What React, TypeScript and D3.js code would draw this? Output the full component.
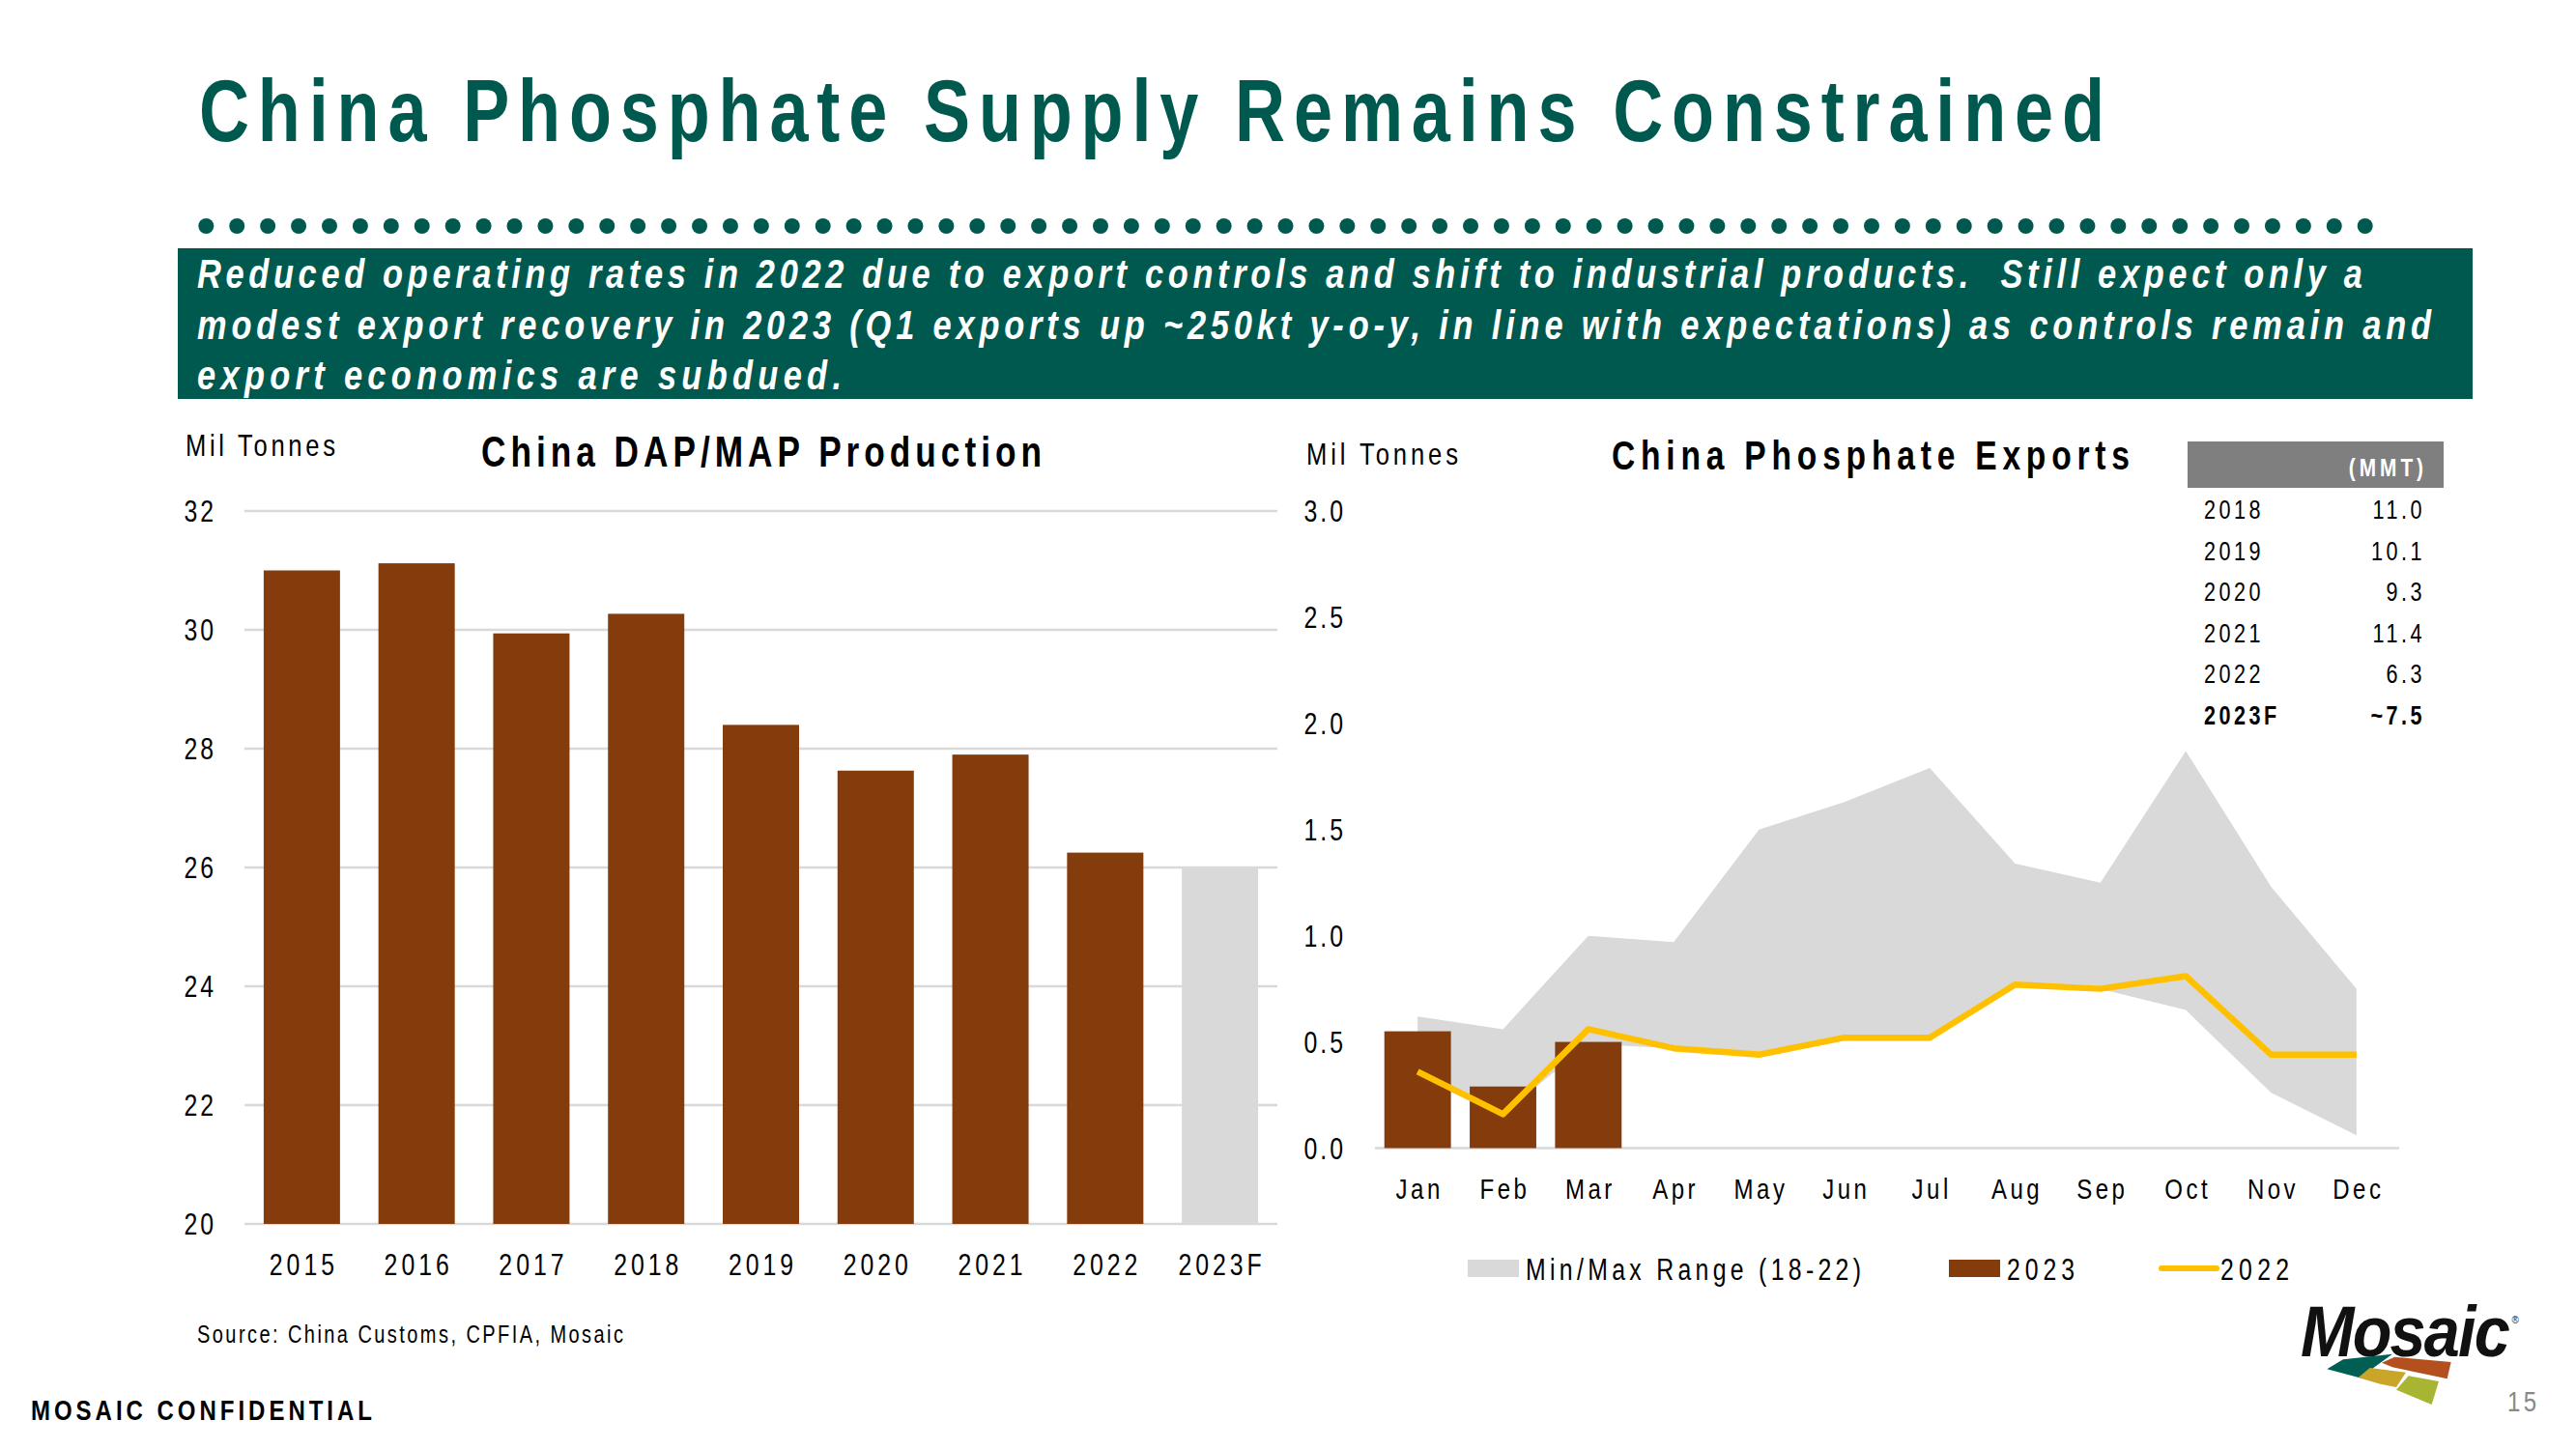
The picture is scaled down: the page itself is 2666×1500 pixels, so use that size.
import React from 'react';
import * as d3 from 'd3';

const W = 2666;
const H = 1500;
const GREEN = '#00594F';
const BROWN = '#843C0C';
const LIGHT = '#D9D9D9';
const YELLOW = '#FFC000';
const FONT = "'Liberation Sans', Arial, sans-serif";
const SX = 0.8;

// Left chart data
const prodYears = ['2015', '2016', '2017', '2018', '2019', '2020', '2021', '2022', '2023F'];
const prodValues = [31.0, 31.12, 29.94, 30.27, 28.4, 27.63, 27.9, 26.25, 26.0];
const prodForecast = [false, false, false, false, false, false, false, false, true];
const prodTicks = [20, 22, 24, 26, 28, 30, 32];

// Right chart data
const months = ['Jan', 'Feb', 'Mar', 'Apr', 'May', 'Jun', 'Jul', 'Aug', 'Sep', 'Oct', 'Nov', 'Dec'];
const exports2023 = [0.55, 0.29, 0.5];
const exports2022 = [0.36, 0.16, 0.56, 0.47, 0.44, 0.52, 0.52, 0.77, 0.75, 0.81, 0.44, 0.44];
const rangeMin = [0.33, 0.16, 0.49, 0.47, 0.44, 0.52, 0.52, 0.77, 0.75, 0.65, 0.26, 0.06];
const rangeMax = [0.62, 0.56, 1.0, 0.97, 1.5, 1.63, 1.79, 1.34, 1.25, 1.87, 1.23, 0.75];
const expTicks = [0, 0.5, 1.0, 1.5, 2.0, 2.5, 3.0];

// Table
const tableYears = ['2018', '2019', '2020', '2021', '2022', '2023F'];
const tableValues = ['11.0', '10.1', '9.3', '11.4', '6.3', '~7.5'];

const bannerLines = [
  'Reduced operating rates in 2022 due to export controls and shift to industrial products.  Still expect only a',
  'modest export recovery in 2023 (Q1 exports up ~250kt y-o-y, in line with expectations) as controls remain and',
  'export economics are subdued.',
];
const bannerWidths = [2241, 2312, 667];

type TP = {
  x: number;
  y: number;
  size: number;
  w?: number;
  ls?: number;
  anchor?: 'start' | 'middle' | 'end';
  weight?: string;
  italic?: boolean;
  fill?: string;
  sx?: number;
  children: React.ReactNode;
};

function T({ x, y, size, w, ls, anchor = 'start', weight = 'normal', italic = false, fill = '#000', sx = SX, children }: TP) {
  return (
    <g transform={`translate(${x},${y}) scale(${sx},1)`}>
      <text
        x={0}
        y={0}
        fontSize={size}
        textAnchor={anchor}
        fontWeight={weight}
        fontStyle={italic ? 'italic' : 'normal'}
        fill={fill}
        textLength={w ? w / sx : undefined}
        lengthAdjust={w ? 'spacing' : undefined}
        letterSpacing={ls ? ls / sx : undefined}
        style={{ whiteSpace: 'pre' }}
      >
        {children}
      </text>
    </g>
  );
}

export default function App() {
  // Left chart scales
  const lx = d3.scaleBand<string>().domain(prodYears).range([253, 1322]).paddingInner(0.335).paddingOuter(0.1675);
  const ly = d3.scaleLinear().domain([20, 32]).range([1267, 529]);

  // Right chart scales
  const rx = d3.scaleBand<string>().domain(months).range([1423, 2483]).paddingInner(0.22).paddingOuter(0.11);
  const ry = d3.scaleLinear().domain([0, 3]).range([1188.5, 529]);
  const cx = (m: string) => (rx(m) as number) + rx.bandwidth() / 2;

  const area = d3
    .area<number>()
    .x((_, i) => cx(months[i]))
    .y0((_, i) => ry(rangeMin[i]))
    .y1((_, i) => ry(rangeMax[i]));
  const line = d3
    .line<number>()
    .x((_, i) => cx(months[i]))
    .y((d) => ry(d));

  const dots = d3.range(71).map((i) => 213.3 + i * 31.92);

  const logoPts = (pts: number[][]) => pts.map(([x, y]) => `${2370 + x / 3},${1330 + y / 3}`).join(' ');

  return (
    <svg width={W} height={H} style={{ position: 'absolute', left: 0, top: 0, display: 'block', background: '#fff' }} fontFamily={FONT}>
      {/* Title */}
      <T x={206} y={146} size={90} weight="bold" fill={GREEN} w={1972}>
        China Phosphate Supply Remains Constrained
      </T>
      {dots.map((x, i) => (
        <circle key={i} cx={x} cy={234} r={8} fill={GREEN} />
      ))}
      <rect x={184} y={257} width={2375} height={156} fill={GREEN} />
      {bannerLines.map((t, i) => (
        <T key={i} x={204} y={298 + i * 52.5} size={43} weight="bold" italic fill="#fff" w={bannerWidths[i]}>
          {t}
        </T>
      ))}

      {/* Left chart */}
      <T x={192} y={472} size={32} w={155}>Mil Tonnes</T>
      <T x={498} y={483} size={44} weight="bold" w={580}>China DAP/MAP Production</T>
      {prodTicks.map((t) => (
        <g key={t}>
          <line x1={253} x2={1322} y1={ly(t)} y2={ly(t)} stroke={LIGHT} strokeWidth={2.5} />
          <T x={224} y={ly(t) + 11} size={31} anchor="end" ls={3}>{String(t)}</T>
        </g>
      ))}
      {prodYears.map((yr, i) => (
        <rect key={yr} x={lx(yr)} y={ly(prodValues[i])} width={lx.bandwidth()} height={ly(20) - ly(prodValues[i])} fill={prodForecast[i] ? LIGHT : BROWN} />
      ))}
      {prodYears.map((yr) => (
        <T key={yr} x={(lx(yr) as number) + lx.bandwidth() / 2 + 2} y={1320} size={31} anchor="middle" ls={4}>{yr}</T>
      ))}
      <T x={204} y={1390} size={25} w={441}>Source: China Customs, CPFIA, Mosaic</T>
      <T x={32} y={1470} size={30} weight="bold" w={353}>MOSAIC CONFIDENTIAL</T>

      {/* Right chart */}
      <T x={1352} y={481} size={32} w={157}>Mil Tonnes</T>
      <T x={1668} y={486} size={42} weight="bold" w={536}>China Phosphate Exports</T>
      {expTicks.map((t) => (
        <T key={t} x={1393} y={ry(t) + 11} size={31} anchor="end" ls={3}>{d3.format('.1f')(t)}</T>
      ))}
      <path d={area(rangeMax) || ''} fill={LIGHT} />
      <line x1={1423} x2={2483} y1={ry(0)} y2={ry(0)} stroke={LIGHT} strokeWidth={2.5} />
      {exports2023.map((v, i) => (
        <rect key={i} x={rx(months[i])} y={ry(v)} width={rx.bandwidth()} height={ry(0) - ry(v)} fill={BROWN} />
      ))}
      <path d={line(exports2022) || ''} fill="none" stroke={YELLOW} strokeWidth={6.5} strokeLinejoin="round" />
      {months.map((m) => (
        <T key={m} x={cx(m) + 2} y={1241} size={30} anchor="middle" ls={3.5}>{m}</T>
      ))}

      {/* Table */}
      <rect x={2264} y={457} width={265} height={48} fill="#7F7F7F" />
      <T x={2512} y={493} size={26} weight="bold" fill="#fff" anchor="end" ls={4}>(MMT)</T>
      {tableYears.map((y, i) => (
        <g key={y}>
          <T x={2281} y={537 + i * 42.6} size={27} weight={i === tableYears.length - 1 ? 'bold' : 'normal'} ls={3.5}>{y}</T>
          <T x={2510} y={537 + i * 42.6} size={27} weight={i === tableYears.length - 1 ? 'bold' : 'normal'} anchor="end" ls={3.5}>{tableValues[i]}</T>
        </g>
      ))}

      {/* Legend */}
      <rect x={1519} y={1304} width={53} height={18} fill={LIGHT} />
      <T x={1579} y={1325} size={31} w={347}>Min/Max Range (18-22)</T>
      <rect x={2017} y={1304} width={53} height={18} fill={BROWN} />
      <T x={2077} y={1325} size={31} w={70}>2023</T>
      <line x1={2237} x2={2294} y1={1313} y2={1313} stroke={YELLOW} strokeWidth={6} strokeLinecap="round" />
      <T x={2298} y={1325} size={31} w={71}>2022</T>

      {/* Logo */}
      <g transform="translate(2381,1404) scale(0.9,1)">
        <text x={0} y={0} fontSize={74} fontWeight="bold" fontStyle="italic" fill="#111" letterSpacing={-2}>
          Mosaic
          <tspan fontSize={11} fontStyle="normal" fontWeight="normal" dx={4} dy={-34}>®</tspan>
        </text>
      </g>
      <polygon points={logoPts([[115, 262], [165, 232], [318, 215], [262, 256], [222, 290]])} fill="#005F55" />
      <polygon points={logoPts([[285, 242], [325, 224], [500, 240], [488, 292], [395, 272], [318, 256]])} fill="#B4501E" />
      <polygon points={logoPts([[212, 288], [248, 258], [360, 272], [330, 318], [280, 308]])} fill="#C9A52A" />
      <polygon points={logoPts([[330, 326], [368, 283], [462, 300], [440, 372]])} fill="#A8B532" />
      <T x={2595} y={1461} size={30} fill="#888" w={30}>15</T>
    </svg>
  );
}
